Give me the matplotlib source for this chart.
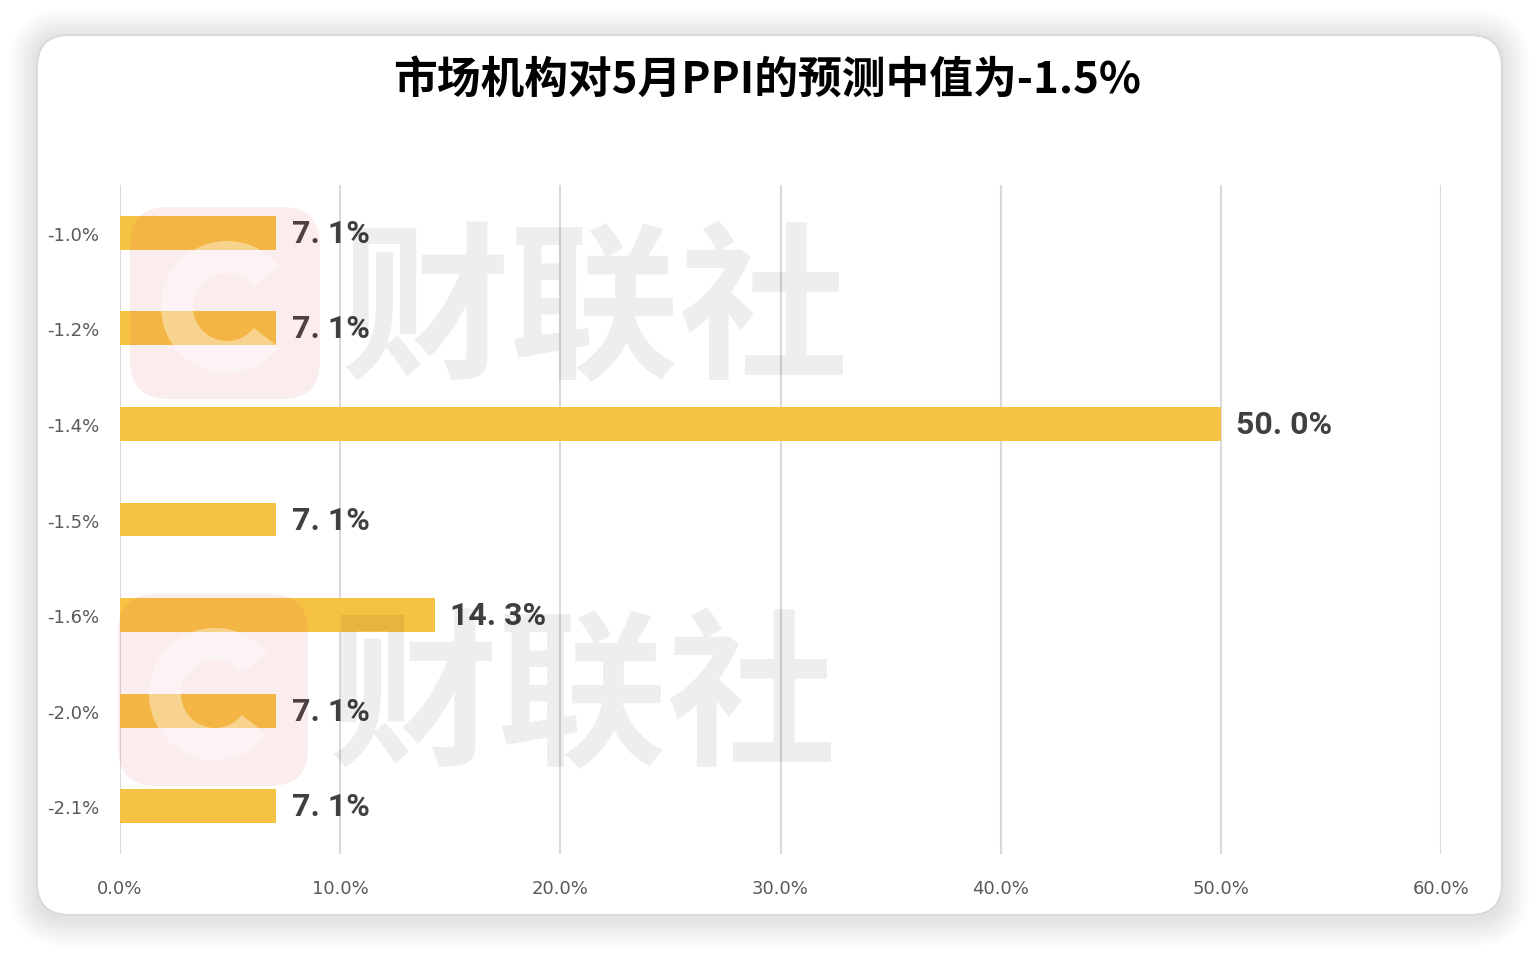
import matplotlib
matplotlib.use('Agg')
import matplotlib.pyplot as plt
from matplotlib.patches import FancyBboxPatch, Wedge

plt.rcParams['font.family'] = ['Noto Sans CJK SC', 'DejaVu Sans']

# data
categories = ['-1.0%', '-1.2%', '-1.4%', '-1.5%', '-1.6%', '-2.0%', '-2.1%']
shares = [7.1, 7.1, 50.0, 7.1, 14.3, 7.1, 7.1]
x_ticks = [0, 10, 20, 30, 40, 50, 60]
title = '市场机构对5月PPI的预测中值为-1.5%'

W, H = 1538, 954
fig = plt.figure(figsize=(W / 100, H / 100), dpi=100)
fig.patch.set_facecolor('white')

# background card with soft shadow (pixel coords)
bg = fig.add_axes([0, 0, 1, 1], zorder=0)
bg.set_xlim(0, W)
bg.set_ylim(H, 0)
bg.axis('off')
for k in range(14, 0, -1):
    pad = k * 2
    bg.add_patch(FancyBboxPatch((37 - pad, 38 - pad), 1465 + 2 * pad, 878 + 2 * pad + 4,
                                boxstyle='round,pad=0,rounding_size=%d' % (30 + pad),
                                fc='black', ec='none', alpha=0.009))
bg.add_patch(FancyBboxPatch((37, 36), 1465, 880, boxstyle='round,pad=0,rounding_size=32',
                            fc='white', ec='#DADADA', lw=1.5))

# main chart
ax = fig.add_axes([120 / W, 1 - 855 / H, (1441 - 120) / W, (855 - 186) / H], zorder=2)
ax.set_facecolor('none')
ypos = list(range(len(categories)))
ax.barh(ypos, shares, height=0.355, color='#F6C243', zorder=2)
ax.set_ylim(len(categories) - 0.5, -0.5)
ax.set_xlim(0, 60)
ax.set_xticks(x_ticks)
ax.set_xticklabels(['%.1f%%' % t for t in x_ticks], fontsize=13, color='#595959', family='DejaVu Sans')
ax.set_yticks(ypos)
ax.set_yticklabels(categories, fontsize=13, color='#595959', family='DejaVu Sans')
ax.tick_params(length=0)
ax.tick_params(axis='x', pad=18)
ax.tick_params(axis='y', pad=15)
ax.grid(axis='x', color='#D9D9D9', lw=1.5)
ax.set_axisbelow(True)
for s in ax.spines.values():
    s.set_visible(False)

for y, v in zip(ypos, shares):
    ax.text(v + 0.7, y, ('%.1f%%' % v).replace('.', '. '), va='center', ha='left',
            fontsize=23, color='#404040', fontweight='bold',
            family=['Roboto', 'DejaVu Sans'], zorder=5)

fig.text(767 / W, 1 - 80 / H, title, ha='center', va='center', fontsize=31.5,
         fontweight='bold', color='black')

# watermark overlay
wm = fig.add_axes([0, 0, 1, 1], zorder=3)
wm.set_xlim(0, W)
wm.set_ylim(H, 0)
wm.axis('off')
for (lx, ly, tx, ty) in [(130, 208, 595, 316), (118, 595, 583, 703)]:
    wm.add_patch(FancyBboxPatch((lx, ly), 190, 192, boxstyle='round,pad=0,rounding_size=38',
                                fc='#DC5050', ec='none', alpha=0.1))
    wm.add_patch(Wedge((lx + 97, ly + 100), 66, 38, 322, width=32, fc='white', ec='none', alpha=0.4))
    wm.text(tx, ty, '财联社', ha='center', va='center', fontsize=122, fontweight='heavy',
            color='black', alpha=0.065)

fig.savefig('out.png', dpi=100)
